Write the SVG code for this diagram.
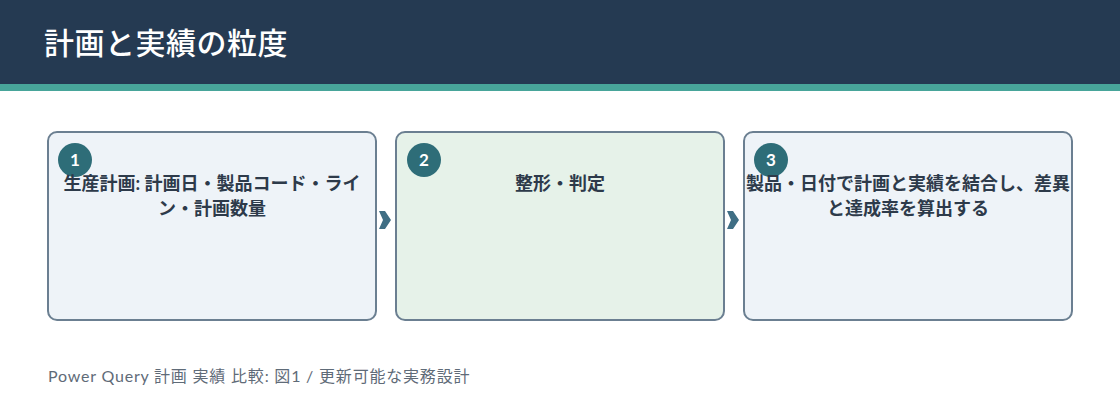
<svg xmlns="http://www.w3.org/2000/svg" width="1120" height="420" viewBox="0 0 1120 420">
<defs>
<style>
.title{font-family:"Noto Sans CJK JP","Noto Sans",sans-serif;font-size:30px;font-weight:500;fill:#ffffff;letter-spacing:0.5px}
.box{stroke:#6b7f91;stroke-width:2}
.b1{fill:#eef3f8}
.b2{fill:#e6f2e9}
.badge{fill:#2e6d78}
.num{font-family:"Lato","Noto Sans",sans-serif;font-size:17px;font-weight:700;fill:#ffffff;text-anchor:middle}
.lbl{font-family:"Lato","Noto Sans CJK JP",sans-serif;font-size:18px;font-weight:700;fill:#2d3a4a;text-anchor:middle}
.foot{font-family:"Lato","Noto Sans CJK JP",sans-serif;font-size:16px;fill:#5f6b78;letter-spacing:0.8px}
.arr{fill:#3f6e84}
</style>
</defs>
<rect x="0" y="0" width="1120" height="84" fill="#253a52"/>
<rect x="0" y="84" width="1120" height="7" fill="#48a59a"/>
<text class="title" x="44" y="54">計画と実績の粒度</text>

<g id="connectors">
<polygon class="arr" points="379,211 385,211 391,220 385,229 379,229 383,220"/>
<polygon class="arr" points="727,211 733,211 739,220 733,229 727,229 731,220"/>
</g>

<g id="node1">
<rect class="box b1" x="48" y="132" width="328" height="188" rx="9"/>
<circle class="badge" cx="75" cy="160" r="17"/>
<text class="num" x="75" y="166">1</text>
<text class="lbl" x="212" y="190">生産計画: 計画日・製品コード・ライ</text>
<text class="lbl" x="212" y="215">ン・計画数量</text>
</g>

<g id="node2">
<rect class="box b2" x="396" y="132" width="328" height="188" rx="9"/>
<circle class="badge" cx="424" cy="160" r="17"/>
<text class="num" x="424" y="166">2</text>
<text class="lbl" x="560" y="190">整形・判定</text>
</g>

<g id="node3">
<rect class="box b1" x="744" y="132" width="328" height="188" rx="9"/>
<circle class="badge" cx="771" cy="160" r="17"/>
<text class="num" x="771" y="166">3</text>
<text class="lbl" x="908" y="190">製品・日付で計画と実績を結合し、差異</text>
<text class="lbl" x="908" y="215">と達成率を算出する</text>
</g>

<text class="foot" x="48" y="382">Power Query 計画 実績 比較: 図1 / 更新可能な実務設計</text>
</svg>
